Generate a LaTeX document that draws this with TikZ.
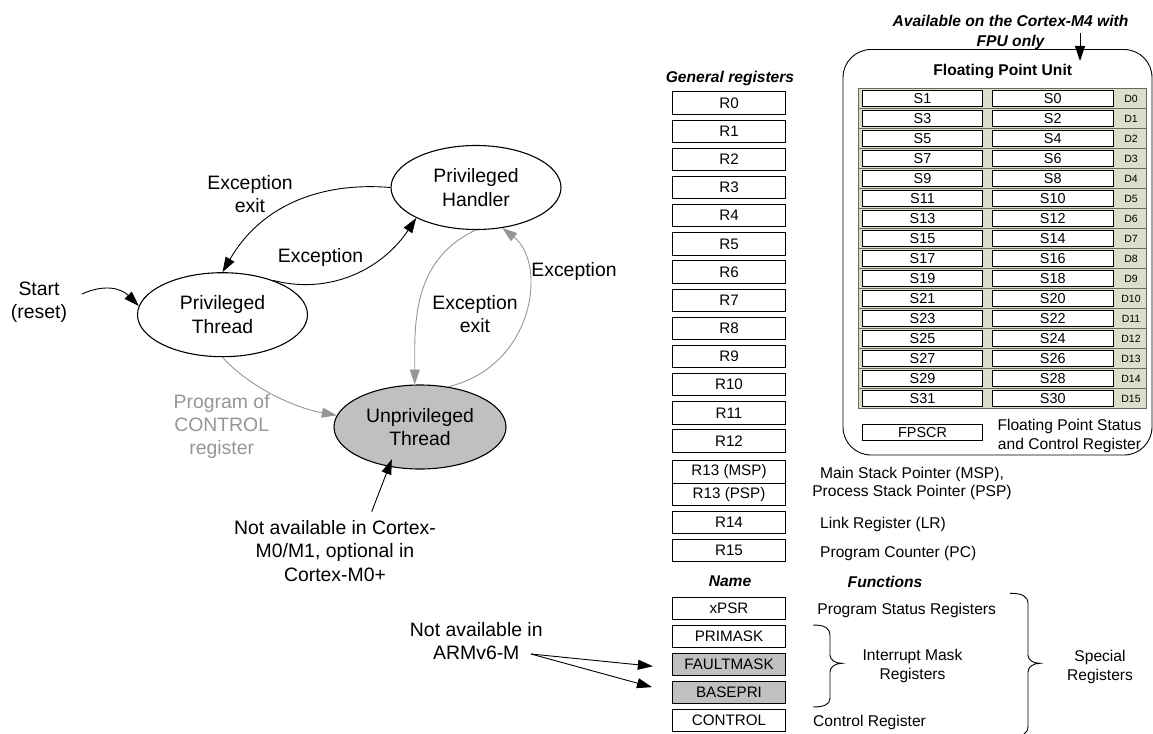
\documentclass[tikz,border=0pt]{standalone}
\usepackage{fontspec}
\setmainfont{Liberation Sans}
\usetikzlibrary{shapes.geometric,arrows.meta,calc}
\newcommand\fsS{\fontsize{15.6}{18.8}\selectfont}
\newcommand\fsL{\fontsize{19.4}{23.3}\selectfont}
\newcommand\fsR{\fontsize{15.2}{18}\selectfont}
\newcommand\fsF{\fontsize{14.4}{16}\selectfont}
\newcommand\fsD{\fontsize{10.5}{12}\selectfont}
\definecolor{lgray}{RGB}{150,150,150}
\definecolor{shade}{RGB}{192,192,192}
\definecolor{fpuolive}{RGB}{221,221,204}
\definecolor{rowline}{RGB}{105,105,95}
\begin{document}
\begin{tikzpicture}[x=1pt,y=-1pt,
  reg/.style={draw, line width=0.9pt, minimum width=112.6pt, minimum height=22.4pt, inner sep=0pt, font=\fsR},
  state/.style={ellipse, draw, line width=1.1pt, minimum width=170pt, minimum height=84pt, inner sep=0pt, align=center, font=\fsL},
  arr/.style={-{Triangle[length=15pt,width=10pt]}, line width=0.9pt},
  garr/.style={arr, draw=lgray, color=lgray},
  lbl/.style={font=\fsL, align=center, inner sep=0pt},
  fn/.style={font=\fsS, align=center, inner sep=0pt},
  hdr/.style={font=\fsS\bfseries\itshape, inner sep=0pt},
  sreg/.style={draw, fill=white, line width=0.8pt, minimum width=120.4pt, minimum height=16pt, inner sep=0pt, font=\fsF},
  fpurow/.style={fill=fpuolive, draw=rowline, line width=1.1pt},
  brace/.style={line width=0.9pt}
]
\useasboundingbox (0,0) rectangle (1153,733);

% ---------------- State diagram ----------------
\node[state] (PH) at (476,187.5) {Privileged\\Handler};
\node[state] (PT) at (222.5,314.7) {Privileged\\Thread};
\node[state, fill=shade, minimum width=172pt] (UT) at (420,427) {Unprivileged\\Thread};

\node[lbl] (startlbl) at (39,302.3) {Start\\(reset)};
\coordinate (st) at (82,294);
\draw[arr] (st) .. controls +(22,-10) and +(-18,-18) .. (PT.174);

\node[lbl] (exexit1) at (250,194.3) {Exception\\exit};
\draw[arr] (PH.west) .. controls +(-74,-6) and +(37,-64) .. (PT.north);

\node[lbl] (exc1) at (320.5,257.7) {Exception};
\draw[arr] (PT.34) .. controls +(58,15) and +(-33,50) .. (PH.207);

\node[lbl] (exexit2) at (475,314) {Exception\\exit};
\draw[garr] (PH.south) .. controls +(-66,30) and +(0,-55) .. (UT.97);

\node[lbl] (exc2) at (574,271.7) {Exception};
\draw[garr] (UT.55) .. controls +(87,-21) and +(45,35) .. (PH.303);

\node[lbl, text=lgray] (prog) at (221.7,426.5) {Program of\\CONTROL\\register};
\draw[garr] (PT.south) .. controls +(25,28) and +(-45,-8) .. (UT.172);

\node[lbl] (navail) at (335,551) {Not available in Cortex-\\M0/M1, optional in\\Cortex-M0+};
\coordinate (na1) at (371.7,511.7);
\draw[arr, shorten >=-8pt] (na1) -- (UT.232);

\node[lbl] (armv6) at (476.3,641) {Not available in\\ARMv6-M};
\coordinate (arm) at (531,654);

% ---------------- General registers ----------------
\node[hdr] (genhdr) at (730,78.3) {General registers};
\foreach \i in {0,...,12}{
  \node[reg] (R\i) at (729,103+28.17*\i) {R\i};
}
\node[reg, minimum height=22.7pt] (R13m) at (729,471.8) {R13 (MSP)};
\node[reg, minimum height=22.7pt] (R13p) at (729,494.5) {R13 (PSP)};
\node[reg] (R14) at (729,522.5) {R14};
\node[reg] (R15) at (729,550.7) {R15};

\node[fn] (spfn) at (912,483.4) {Main Stack Pointer (MSP),\\Process Stack Pointer (PSP)};
\node[fn, anchor=west] (lrfn) at (820,524) {Link Register (LR)};
\node[fn, anchor=west] (pcfn) at (820,553) {Program Counter (PC)};

\node[hdr] (namehdr) at (730,581.7) {Name};
\node[hdr] (funchdr) at (885,581.7) {Functions};

% ---------------- Special registers ----------------
\node[reg] (xpsr) at (729,608.3) {xPSR};
\node[reg] (prim) at (729,636.2) {PRIMASK};
\node[reg, fill=shade] (FM) at (729,664.2) {FAULTMASK};
\node[reg, fill=shade] (BP) at (729,692.2) {BASEPRI};
\node[reg] (ctrl) at (729,720.3) {CONTROL};

\draw[arr, shorten >=19.5pt] (arm) -- ($(FM.west)+(0,4)$);
\draw[arr, shorten >=21pt] (arm) -- ($(BP.west)+(0,0.5)$);

\node[fn] (psrfn) at (906.7,610) {Program Status Registers};
\node[fn, anchor=west] (ctrlfn) at (813,722.7) {Control Register};
\node[fn] (imfn) at (912.5,666.3) {Interrupt Mask\\Registers};
\node[fn] (spfn2) at (1100,666.7) {Special\\Registers};

\draw[brace] (813,625) .. controls (825,625) and (830,628) .. (830,636) -- (830,655)
  .. controls (830,660) and (835,663.3) .. (842,663.3)
  .. controls (835,663.3) and (830,667) .. (830,672) -- (830,698)
  .. controls (830,704) and (825,707) .. (813,707);
\draw[brace] (1010,593.3) .. controls (1022,593.3) and (1028,596) .. (1028,604) -- (1028,655)
  .. controls (1028,660) and (1033,663.3) .. (1040,663.3)
  .. controls (1033,663.3) and (1028,667) .. (1028,672) -- (1028,726)
  .. controls (1028,734) and (1022,737) .. (1010,737);

% ---------------- FPU ----------------
\draw[line width=0.9pt, rounded corners=28pt] (843,49.5) rectangle (1152,455);
\node[font=\fsS\bfseries, inner sep=0pt] (fput) at (1002.7,71.7) {Floating Point Unit};
\node[hdr, align=center, font=\fontsize{15.6}{20}\selectfont\bfseries\itshape] (avail) at (1010.5,32.7) {Available on the Cortex-M4 with\\FPU only};
\coordinate (av1) at (1080,33);
\coordinate (av2) at (1080,61);
\draw[arr] (av1) -- (av2);

\foreach \i in {0,...,15}{
  \pgfmathsetmacro\t{88.3+20*\i}
  \pgfmathtruncatemacro\sa{2*\i+1}
  \pgfmathtruncatemacro\sb{2*\i}
  \draw[fpurow] (858.3,\t) rectangle (1146.7,\t+20);
  \node[sreg] (Sa\i) at (922.5,\t+10) {S\sa};
  \node[sreg] (Sb\i) at (1052.7,\t+10) {S\sb};
  \node[font=\fsD, inner sep=0pt] (D\i) at (1131,\t+10.5) {D\i};
}
\node[sreg, minimum height=16.7pt] (fpscr) at (922.5,432.3) {FPSCR};
\node[fn, align=center, font=\fontsize{15.6}{19}\selectfont] (fpscrfn) at (1069.5,435.5) {Floating Point Status\\and Control Register};
\end{tikzpicture}
\end{document}
